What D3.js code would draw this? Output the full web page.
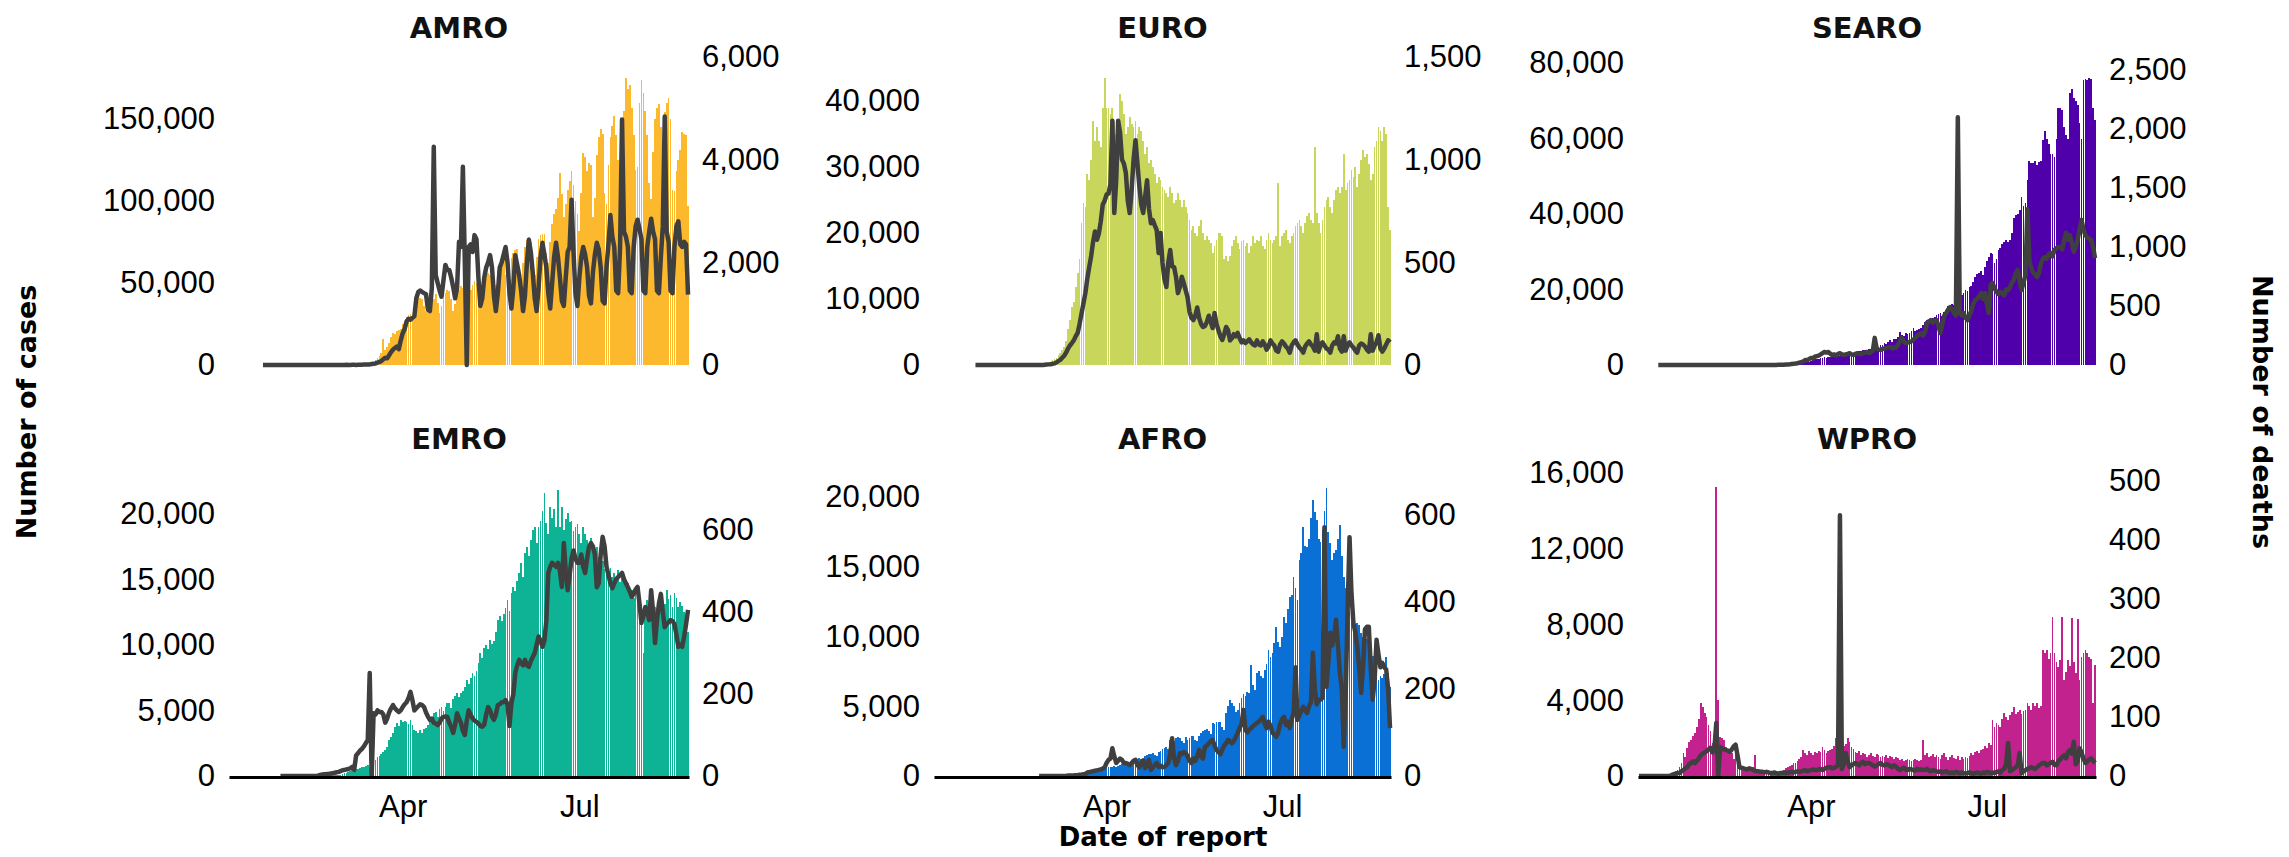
<!DOCTYPE html>
<html><head><meta charset="utf-8">
<script src="https://cdn.jsdelivr.net/npm/d3@7"></script>
<style>
body{margin:0;background:#fff}
</style>
</head><body>
<svg id="chart" width="2289" height="857"></svg>
<script>
// ---------------- DATA (daily, first day = 2020-01-03, last day = 2020-08-26) ----------------
const firstDay = "2020-01-03";
const regions = ["AMRO","EURO","SEARO","EMRO","AFRO","WPRO"];
const monthTicks = ["2020-04-01","2020-07-01"];

const amroCases = [0,
0,0,0,0,0,0,0, 0,0,0,0,0,0,0, 0,0,0,1,0,0,1, 0,0,1,0,0,1,0, 1,0,0,1,2,0,0, 0,0,1,0,0,0,1, 0,0,0,1,0,0,2,
3,5,8,10,12,15,18, 20,15,30,50,60,80,120, 150,200,250,350,450,600,700, 900,1200,1500,2000,3000,4500,5500,
7500,16000,9000,11000,13500,17000,19500, 19000,20500,21500,22000,25000,26500,29000,
30500,31000,29000,35000,38000,42000,41000, 40000,36000,33000,34000,39000,42000,40000,
43000,38000,32000,36000,41000,44000,46000, 45000,40000,33000,37000,42000,46000,48000,
47000,42000,36000,39000,46000,49000,51000, 50000,44000,38000,43000,51000,55000,56000,
55000,48000,42000,49000,58000,62000,63000, 64000,55000,48000,56000,65000,68000,70000,
71000,60000,52000,62000,72000,76000,78000, 75000,62000,55000,66000,77000,79000,80000,
80000,68000,62000,75000,86000,92000,95000, 102000,117000,104000,90000,98000,107000,112000,
118000,110000,100000,92000,82000,105000,129000, 127000,118000,123000,122000,90000,102000,128000,
139000,144000,141000,105000,98000,122000,139000, 146000,152000,140000,125000,111000,128000,155000,
175000,168000,171000,157000,140000,119000,121000, 160000,174000,166000,155000,140000,111000,101000,
130000,150000,157000,159000,145000,128000,154000, 160000,163000,150000,107000,106000,118000,125000,
131000,142000,141000,140000,97000];
const amroDeaths = [null,
null,null,null,null,null,null,null, null,null,null,null,null,null,null, null,null,0,0,0,0,0,
0,0,0,0,0,0,0, 0,0,0,0,0,0,0, 0,0,0,0,0,0,0, 0,0,0,0,0,0,0, 0,0,0,0,0,0,0,
1,0,1,4,1,2,3, 3,2,4,4,7,9,10, 10,11,20,25,30,45,60, 80,110,140,130,190,250,300,
330,360,310,480,620,700,850, 900,880,920,950,1300,1420,1450, 1420,1400,1380,1080,1050,1500,4250,
1750,1600,1450,1330,1650,1950,1850, 1850,1700,1520,1300,1500,2400,2300, 3860,2000,0,2300,2350,2200,2530,
2450,1700,1150,1300,1700,1900,2000, 2140,1900,1350,1050,1400,1900,2000, 2150,2300,2000,1400,1100,1500,2140,
1950,1750,1450,1050,1350,2000,2440, 2200,1800,1300,1050,1500,2100,2380, 2150,1900,1400,1100,1600,2100,2380,
2100,1700,1250,1150,1700,2200,2300, 3220,2200,1400,1150,1700,2100,2300, 2150,1900,1350,1200,1800,2150,2380,
2250,1900,1250,1200,1900,2350,2920, 2500,2300,1450,1400,2300,4780,2600, 2500,2300,1450,1400,2300,2700,2830,
2650,2450,1450,1400,2300,2600,2850, 2600,2450,1450,1400,2100,2700,4840, 2600,2400,1450,1400,2300,2700,2800,
2350,2300,2400,2350,1370];

const euroCases = [0,
0,0,0,0,0,0,0, 0,0,0,0,0,0,0, 0,0,0,0,0,0,0, 0,0,3,0,0,2,0, 1,0,0,1,0,0,2, 0,0,1,0,0,1,0, 0,0,1,0,0,0,1,
20,40,80,60,90,120,180, 300,350,400,500,700,900,1100, 1500,1800,2200,2700,3600,5500,6800,
8800,9500,11800,14000,16000,21500,24500, 24000,29000,28000,31000,37000,34000,36000,
34000,33000,39000,43500,39000,39000,38000, 39000,37000,35000,37000,41000,40000,38000,
35000,36000,37500,36500,36000,37000,35000, 36000,35500,34000,32000,33000,30600,31000,
30000,29000,27500,28500,28000,27000,26500, 26000,25500,27000,26000,24500,25000,26000,
25000,24000,25000,24000,23000,22000,20500, 21000,20000,19500,21000,22000,20000,19000,
19500,19000,18500,17000,18000,19000,20000, 20000,19500,16000,16500,15800,16500,18000,
19000,19500,18500,17500,18800,19000,18000, 18500,17000,18000,19500,18500,19000,18800,
19500,18000,17500,19000,20000,19000,18500, 19000,19500,27500,18000,19500,20000,20500,
19000,18500,19500,20000,21000,21500,22000, 21000,20000,21500,22500,23000,22000,21500,
33000,23000,21500,20000,22000,24000,25000, 25500,24000,23000,25000,26500,27000,26000,
27000,32000,26500,27500,28000,29500,28500, 30000,27000,29000,31000,32500,31500,32000,
30500,28000,29000,33000,34000,36000,35500, 34000,36000,35000,24000,20500];
const euroDeaths = [null,
null,null,null,null,null,null,null, null,null,null,null,null,null,null, null,null,null,null,null,null,0,
0,0,0,0,0,0,0, 0,0,0,0,0,0,0, 0,0,0,0,0,0,0, 0,0,0,0,0,0,0, 0,0,0,0,0,0,0,
1,2,3,4,6,8,12, 20,25,35,45,60,80,95, 107,120,140,156,200,250,300, 350,420,477,530,600,650,610,
640,700,780,800,830,835,880, 1190,740,900,1190,1130,1000,980, 935,800,740,850,1000,1095,980,
870,780,740,820,900,760,690, 705,680,657,545,643,497,420, 380,500,560,480,477,430,350,
380,430,400,365,330,260,230, 219,240,280,230,200,185,190, 210,240,210,180,253,200,170,
140,122,150,185,170,120,130, 150,140,156,130,110,120,107, 115,125,110,100,95,120,100,
95,115,100,75,90,120,105, 95,70,65,100,115,105,90, 80,60,95,110,120,100,85,
75,60,90,105,115,100,90, 70,150,65,100,110,95,80, 75,60,95,110,105,140,80,
65,140,70,100,110,95,85, 70,60,95,105,100,90,75, 65,150,70,95,110,145,80,
65,80,100,120,110];

const searoCases = [0,
0,0,0,0,0,0,0, 0,0,0,0,1,0,0, 0,1,0,0,1,0,1, 2,0,1,3,0,1,0, 2,1,0,3,1,0,0, 1,0,0,1,0,0,0, 0,0,0,1,0,0,0,
0,1,0,0,0,1,0, 1,2,0,3,5,10,12, 15,18,12,20,25,28,30, 30,40,50,60,70,90,110,
150,180,250,300,380,420,500, 600,700,800,900,1100,1600,1700, 1500,1700,1800,1900,2000,1800,2100,
2200,2400,2300,2500,2700,2400,2600, 2800,2900,3000,3100,3200,3000,3300, 3500,3800,3600,3900,4000,4100,4200,
4300,4500,4800,5000,4900,5200,5300, 5800,5500,6000,6500,6200,6800,7000, 7500,8700,8000,7800,8500,8200,8600,
9000,9800,8900,9300,9500,9900,10500, 11500,12000,11000,11500,12500,12800,13200,
13500,13800,13000,14000,14500,15500,16000, 16200,15800,16400,16000,17500,18500,19000,
20000,19500,20700,21000,22000,23300,24000, 24400,25000,23800,26000,27500,28500,29600,
29500,27000,28000,30500,31000,32000,32600, 33000,32600,33000,35000,39000,39700,40000,
41000,44500,42000,43000,49000,54000,53500, 53500,54000,53000,53800,54000,59500,62000,
60000,58500,56000,56000,55000,60000,68000, 68000,67500,63000,61000,60000,72000,73000,
70700,70000,69000,64000,60000,75500,75800, 75500,76000,75800,68000,65000];
const searoDeaths = [null,
null,null,null,null,null,null,null, null,null,0,0,0,0,0,
0,0,0,0,0,0,0, 0,0,0,0,0,0,0, 0,0,0,0,0,0,0, 0,0,0,0,0,0,0, 0,0,0,0,0,0,0, 0,0,0,0,0,0,0,
0,0,0,0,0,1,0, 0,1,0,1,1,0,1, 1,2,2,3,3,4,5, 6,8,10,12,15,20,25,
30,42,40,50,60,55,70, 75,80,90,100,110,105,110, 95,85,90,80,95,100,90,
85,90,95,100,90,85,95, 100,95,90,100,105,110,100, 110,120,230,140,130,127,135,
140,145,150,153,140,150,145, 170,200,230,200,186,190,195, 200,215,230,250,260,270,250,
280,356,370,380,360,375,380, 330,270,350,420,440,470,490, 470,440,420,2100,440,420,440,
400,380,420,460,520,550,560, 580,610,560,610,520,440,680, 695,650,620,600,620,610,590,
640,635,660,700,720,780,805, 700,635,700,760,1320,880,820, 780,770,745,780,860,900,915,
900,940,950,920,975,990,1000, 1000,980,1060,1120,1060,1100,1035, 960,1000,1060,1150,1230,1150,1100,
1080,1070,1060,1000,905];

const emroCases = [0,
0,0,0,0,0,0,0, 0,0,0,0,0,0,0, 0,0,0,0,0,0,0, 0,0,0,0,0,0,0, 0,0,0,0,1,0,0, 0,0,1,0,0,0,0, 0,0,1,0,0,2,3,
20,30,40,50,60,110,100, 110,140,210,240,330,350,420, 460,520,540,610,680,700,760,
830,690,720,980,1210,1450,1520, 1700,1800,2000,2200,2750,3000,3280,
3740,4050,3800,4270,4150,4200,4120, 4000,4300,3900,3500,3400,3300,3500,
3280,3600,3700,3900,4100,4300,4800, 4900,4500,5100,5270,5000,5300,5570,
5600,5200,5900,6100,6340,6000,6300, 6500,6800,7300,7000,7500,7860,7600,
8000,8600,9400,9000,9800,10000,9700, 10400,10100,10300,11000,11900,12200,11800,
12400,12800,13400,12600,14000,14400,14100, 14900,15500,16260,15200,17000,17500,16800,
18000,18800,19000,17800,19000,19500,20200, 21600,19300,18500,20500,19700,20400,19000,
21800,19000,20500,18800,19600,20100,19400, 19500,18700,19000,19200,18500,17800,19000,
18500,18000,17600,18200,17200,16800,17500, 16700,16000,16400,15800,16200,15700,15900,
15200,15500,15000,15700,14800,15300,15200, 14400,14700,13900,14200,13600,14000,13400,
13800,13100,9400,13000,13400,12900,12600, 13100,12900,11500,13400,13000,12700,13100,
14200,13500,13800,12900,14000,13600,12900, 13300,13000,12500,12000,11000];
const emroDeaths = [null,
null,null,null,null,null,null,null, null,null,null,null,null,null,null, null,null,null,null,null,null,null,
null,null,null,null,0,0,0, 0,0,0,0,0,0,0, 0,0,0,0,0,0,0, 0,0,0,2,3,4,4, 5,5,6,7,8,9,10,
12,14,15,16,17,19,22, 15,50,56,62,66,72,80, 88,251,0,153,150,160,156, 156,150,130,140,155,165,173,
165,160,156,160,168,175,180, 190,205,185,160,165,170,175, 173,168,155,145,137,140,130,
128,124,130,140,144,145,144, 130,120,105,125,153,140,130, 110,100,135,160,150,140,135,
132,128,122,120,125,150,168, 160,145,137,150,173,175,180, 180,185,175,122,178,200,251,
270,283,275,270,283,270,266, 280,290,300,320,340,330,315, 330,380,495,510,520,515,510,
520,500,461,568,500,453,490, 530,550,530,520,520,540,510, 495,530,559,568,560,540,460,
470,540,583,560,510,490,470, 458,470,480,485,490,495,480, 470,460,450,437,445,455,461,
420,373,390,412,400,380,453, 400,324,380,420,444,400,363, 370,375,380,378,370,345,315,
320,315,340,370,405];

const afroCases = [0,
0,0,0,0,0,0,0, 0,0,0,0,0,0,0, 0,0,0,0,0,0,0, 0,0,0,0,0,0,0, 0,0,0,0,0,0,0, 0,0,0,0,0,0,0, 0,0,0,0,0,0,0,
0,0,0,0,1,0,0, 1,0,1,2,3,5,4, 8,10,12,15,20,25,30, 40,50,60,70,90,110,150,
180,200,250,300,320,350,400, 450,420,500,550,600,620,650, 680,700,645,750,800,850,900,
950,900,850,1000,1100,1150,1200, 1300,1250,1150,1400,1500,1550,1600, 1650,1500,1400,1700,1800,1900,2000,
2100,1900,2600,2400,2500,2700,2800, 2700,2500,2400,2800,2600,2700,2900, 2850,2600,2500,2900,3100,3200,3300,
3400,3200,3000,3800,3700,3850,3870, 3900,3500,3300,4500,5000,5450,5200, 5000,4600,4730,5200,5600,5900,5700,
6000,5970,7970,6500,6200,7380,7500, 7200,7000,7600,8000,9030,8500,8800, 9500,10680,9600,9250,10000,11400,11000,
12000,12840,13000,14260,13500,12600,15480, 16000,17850,16500,16400,17000,18500,19800,
18900,18350,17000,16800,17600,19000,20650, 17500,16700,15500,16000,16200,17000,18000,
15800,14300,13500,12400,11800,11000,11200, 10500,11000,10800,10250,10000,9500,9800,
9200,8800,8600,8300,7600,6880,7200, 7000,7300,8530,7380,6400];
const afroDeaths = [null,
null,null,null,null,null,null,null, null,null,null,null,null,null,null, null,null,null,null,null,null,null,
null,null,null,null,null,null,null, null,null,null,null,null,null,null, null,null,null,null,null,null,null,
null,null,null,null,null,null,null, null,null,null,null,0,0,0,
0,0,0,0,0,0,0, 0,0,0,0,0,1,1, 1,1,2,2,3,3,4, 5,8,9,10,11,12,13,
14,15,17,20,30,37,40, 64,45,30,35,40,37,30, 30,28,25,30,35,37,25,
20,30,36,18,25,37,14, 20,25,30,21,24,20,21, 25,30,50,87,40,25,35,
53,50,55,53,45,35,30, 40,35,45,60,45,40,67, 70,75,80,83,70,60,55,
50,60,70,75,83,80,75, 80,90,99,110,120,152,106, 100,106,110,115,118,122,125,
130,136,120,110,125,115,100, 95,90,100,120,130,136,117, 125,110,130,145,250,129,140,
150,159,150,145,160,170,283, 200,165,175,175,180,572,205, 260,329,300,320,359,300,237,
200,67,190,380,549,420,352, 330,297,250,191,250,337,343, 343,250,175,220,313,280,250,
260,250,245,200,110];

const wproCases = [0,
0,0,0,0,0,0,0, 0,0,0,0,1,0,0, 20,40,80,150,250,300,480, 700,1200,1000,1500,1800,1900,2100,
2270,2600,3000,3860,3650,3330,3120, 2700,2400,1750,1200,15240,4020,2060, 2000,1900,1530,1400,1375,1200,900,
1200,700,500,400,550,450,350, 320,400,450,1100,300,250,200, 180,150,120,140,160,150,130,
150,180,200,250,300,400,480, 550,600,690,700,800,900,1000, 1375,1200,1100,1300,1200,1100,1250,
1200,1300,1250,1530,1375,1200,1300, 1375,1400,1600,2000,1800,1950,1530, 1600,1700,2000,1800,1530,1400,1250,
1200,1300,1100,1200,1150,1000,1100, 1200,1050,1000,1150,1100,1000,1050, 1000,1100,950,1050,1000,900,1000,
950,850,900,800,850,900,850, 800,850,900,850,800,850,1900, 1100,1200,1000,1050,1150,1000,1100,
1000,900,1100,1200,1000,850,1000, 1100,950,900,1050,850,1000,900, 1000,950,1050,1200,1100,1250,1300,
1200,1375,1450,1600,1500,1750,1650, 2960,2600,2800,2700,2600,3000,3330, 3100,2960,3200,3400,3650,3300,3400,
3490,3300,3450,3500,3860,3700,3500, 3860,3700,3850,3600,3700,6670,6500, 6670,6200,6490,8410,6490,6000,5770,
6100,8410,5080,5500,6140,5800,8360, 6000,5440,8300,5080,6300,6500,6670, 6500,6300,6200,3860,5870];
const wproDeaths = [0,
0,0,0,0,0,0,0, 0,0,0,0,0,0,0, 0,0,2,3,4,5,5, 8,10,13,15,20,22,25, 22,26,30,35,38,40,42,
45,48,40,45,90,0,49, 47,45,44,43,41,45,50, 53,35,15,14,13,12,11, 13,12,10,9,8,8,7,
7,6,7,6,5,5,6, 5,4,5,5,6,5,6, 6,7,6,7,8,7,8, 9,10,8,9,10,11,10, 10,11,12,10,12,14,15,
15,13,14,16,18,442,12, 20,39,25,15,18,20,22, 20,18,22,24,20,22,22, 20,18,16,18,20,22,19,
18,20,19,17,15,18,16, 12,10,12,14,11,10,12, 11,10,9,12,10,11,10, 10,12,9,8,10,9,8,
7,8,6,7,8,6,5, 6,5,7,6,5,6,5, 4,5,6,5,4,5,6, 5,4,6,5,7,6,5, 6,5,7,8,6,10,12,
20,56,8,10,12,15,18, 39,5,8,10,12,13,15, 13,12,15,18,20,22,22, 18,20,22,24,19,18,25,
28,32,35,30,40,44,38, 58,20,25,47,40,30,22, 25,28,30,26,22];

// axis tick values
const amroCaseTicks = [0,50000,100000,150000],  amroDeathTicks = [0,2000,4000,6000];
const euroCaseTicks = [0,10000,20000,30000,40000], euroDeathTicks = [0,500,1000,1500];
const searoCaseTicks = [0,20000,40000,60000,80000], searoDeathTicks = [0,500,1000,1500,2000,2500];
const emroCaseTicks = [0,5000,10000,15000,20000], emroDeathTicks = [0,200,400,600];
const afroCaseTicks = [0,5000,10000,15000,20000], afroDeathTicks = [0,200,400,600];
const wproCaseTicks = [0,4000,8000,12000,16000], wproDeathTicks = [0,100,200,300,400,500];

// ---------------- LAYOUT / STYLE ----------------
const colX = [[229,689],[934,1391],[1638,2096]];
const rowY = [[365,50],[776,461]]; // [zero baseline, top]
const panels = [
  {name:regions[0], cases:amroCases,  deaths:amroDeaths,  cT:amroCaseTicks,  dT:amroDeathTicks,  cMax:192073, dMax:6136, col:0,row:0, color:"#FDB92D"},
  {name:regions[1], cases:euroCases,  deaths:euroDeaths,  cT:euroCaseTicks,  dT:euroDeathTicks,  cMax:47727,  dMax:1534, col:1,row:0, color:"#C8D75C"},
  {name:regions[2], cases:searoCases, deaths:searoDeaths, cT:searoCaseTicks, dT:searoDeathTicks, cMax:83444,  dMax:2669, col:2,row:0, color:"#5000AA"},
  {name:regions[3], cases:emroCases,  deaths:emroDeaths,  cT:emroCaseTicks,  dT:emroDeathTicks,  cMax:24046,  dMax:768,  col:0,row:1, color:"#0DB394"},
  {name:regions[4], cases:afroCases,  deaths:afroDeaths,  cT:afroCaseTicks,  dT:afroDeathTicks,  cMax:22581,  dMax:724,  col:1,row:1, color:"#0B70D6"},
  {name:regions[5], cases:wproCases,  deaths:wproDeaths,  cT:wproCaseTicks,  dT:wproDeathTicks,  cMax:16634,  dMax:534,  col:2,row:1, color:"#C1228E"}
];
const tickFont = "'Liberation Sans', Arial, Helvetica, sans-serif";
const titleFont = "'DejaVu Sans', Verdana, sans-serif";

const svg = d3.select("#chart");
const parse = d3.utcParse("%Y-%m-%d");
const d0 = parse(firstDay);
const dayDate = i => d3.utcDay.offset(d0, i);
const fmt = d3.format(",");
const dMin = d3.utcHour.offset(d0, -12);
const dMaxDate = d3.utcHour.offset(dayDate(amroCases.length - 1), 12);

panels.forEach(p => {
  const [xa, xb] = colX[p.col];
  const [base, top] = rowY[p.row];
  const x = d3.scaleUtc().domain([dMin, dMaxDate]).range([xa, xb]);
  const yL = d3.scaleLinear().domain([0, p.cMax]).range([base, top]);
  const yR = d3.scaleLinear().domain([0, p.dMax]).range([base, top]);
  const step = x(dayDate(1)) - x(dayDate(0));
  const bw = step * 0.9;
  const g = svg.append("g");

  const rows = p.cases.map((v, i) => ({date: dayDate(i), c: v, d: p.deaths[i]}));

  g.append("g").attr("shape-rendering", "crispEdges")
    .selectAll("rect").data(rows.filter(r => r.c > 0)).join("rect")
    .attr("x", r => x(r.date) - bw / 2)
    .attr("width", bw)
    .attr("y", r => yL(r.c))
    .attr("height", r => base - yL(r.c))
    .attr("fill", p.color);

  const line = d3.line().defined(r => r.d != null).x(r => x(r.date)).y(r => yR(r.d));
  g.append("path").datum(rows).attr("d", line)
    .attr("fill", "none").attr("stroke", "#3f3f3f").attr("stroke-width", 4.5)
    .attr("stroke-linejoin", "round");

  const left = g.append("g").attr("transform", `translate(${xa},0)`)
    .call(d3.axisLeft(yL).tickValues(p.cT).tickFormat(fmt).tickSize(0).tickPadding(14));
  const right = g.append("g").attr("transform", `translate(${xb},0)`)
    .call(d3.axisRight(yR).tickValues(p.dT).tickFormat(fmt).tickSize(0).tickPadding(13));
  [left, right].forEach(a => {
    a.select(".domain").remove();
    a.selectAll("text").style("font-size", "31px").style("fill", "#000")
      .style("font-family", tickFont);
  });

  if (p.row === 1) {
    const bottom = g.append("g").attr("transform", `translate(0,${base + 1})`)
      .call(d3.axisBottom(x).tickValues(monthTicks.map(parse))
        .tickFormat(d3.utcFormat("%b")).tickSize(0).tickPadding(18));
    bottom.select(".domain").attr("stroke", "#000").attr("stroke-width", 3);
    bottom.selectAll("text").style("font-size", "31px").style("fill", "#000")
      .style("font-family", tickFont);
  }

  g.append("text").attr("x", (xa + xb) / 2).attr("y", base - 327)
    .attr("text-anchor", "middle")
    .style("font-family", titleFont).style("font-size", "29px").style("font-weight", "bold")
    .style("fill", "#111").text(p.name);
});

svg.append("text").attr("transform", "translate(36,412) rotate(-90)")
  .attr("text-anchor", "middle")
  .style("font-family", titleFont).style("font-weight", "bold").style("font-size", "27px")
  .style("fill", "#000").text("Number of cases");
svg.append("text").attr("transform", "translate(2253,412) rotate(90)")
  .attr("text-anchor", "middle")
  .style("font-family", titleFont).style("font-weight", "bold").style("font-size", "27px")
  .style("fill", "#000").text("Number of deaths");
svg.append("text").attr("x", 1163).attr("y", 846)
  .attr("text-anchor", "middle")
  .style("font-family", titleFont).style("font-weight", "bold").style("font-size", "26px")
  .style("fill", "#000").text("Date of report");
</script>
</body></html>
